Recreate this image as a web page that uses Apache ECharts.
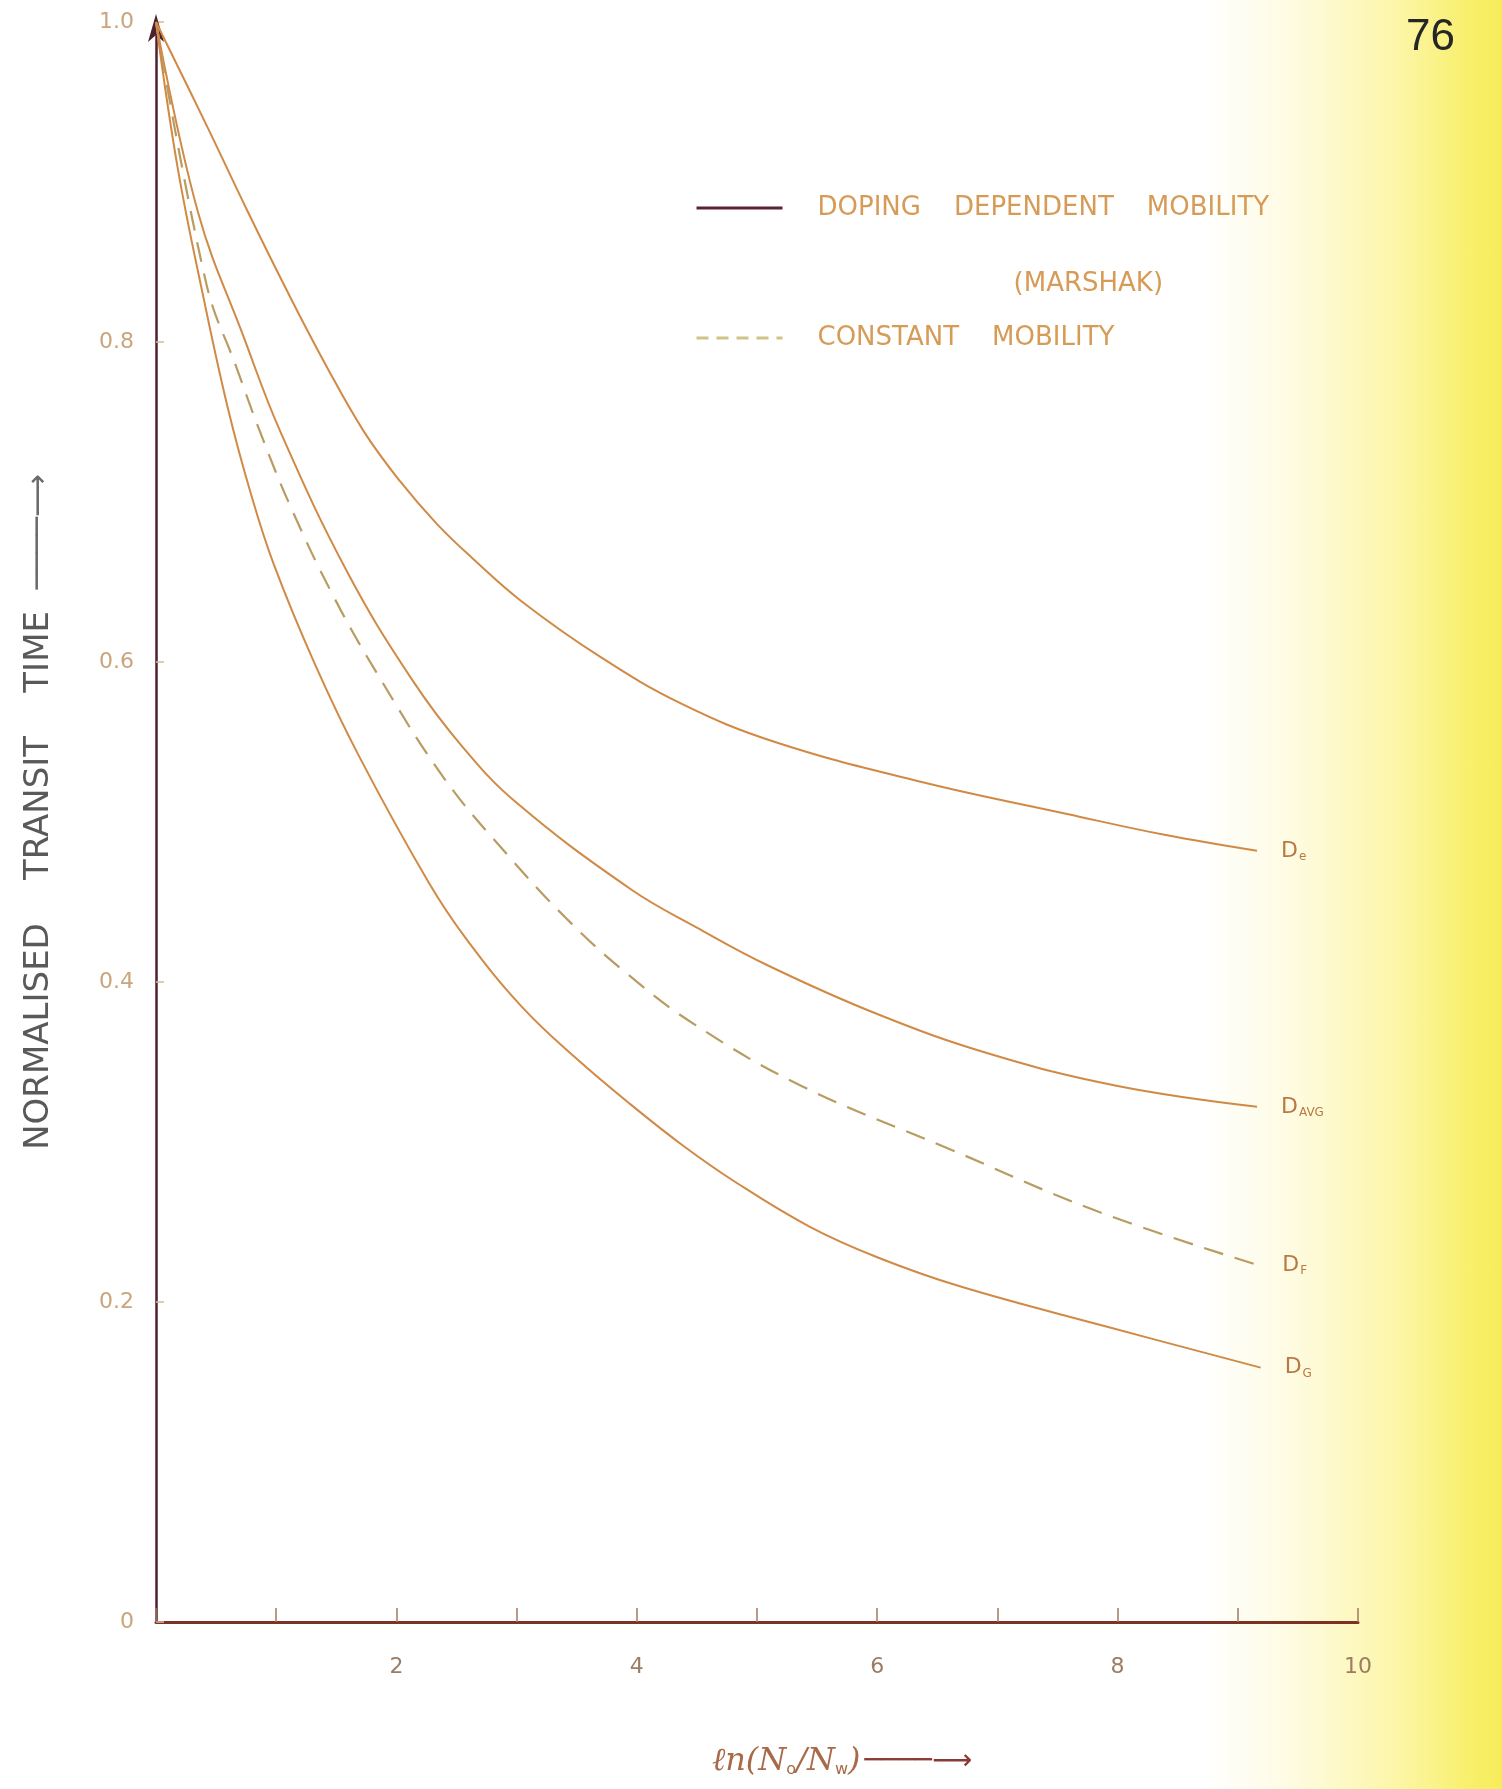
<!DOCTYPE html>
<html>
<head>
<meta charset="utf-8">
<script src="https://cdn.jsdelivr.net/npm/echarts@6/dist/echarts.min.js"></script>
<style>
  html, body { margin: 0; padding: 0; }
  body {
    width: 1502px; height: 1789px;
    background: linear-gradient(to right, #ffffff 0%, #ffffff 80%, #fefbe2 86%, #fcf6a8 93%, #f8ef6a 98%, #f6ec5a 100%);
  }
  #chart { width: 1502px; height: 1789px; }
</style>
</head>
<body>
<div id="chart"></div>
<script>
// ---- data (x = ln(No/Nw), y = normalised transit time) ----
const xTickLabels = ['2', '4', '6', '8', '10'];
const yTickLabels = ['0', '0.2', '0.4', '0.6', '0.8', '1.0'];

const seriesDopingName = 'DOPING DEPENDENT MOBILITY (MARSHAK)';
const seriesConstName = 'CONSTANT MOBILITY';

// D_e (top solid curve)
const deX = [0, 0.43, 0.76, 1.09, 1.41, 1.73, 2.03, 2.34, 2.63, 3.04, 3.70, 4.37, 5.15, 6.37, 7.58, 8.39, 9.16];
const deY = [1.0, 0.934, 0.882, 0.832, 0.786, 0.744, 0.713, 0.686, 0.665, 0.638, 0.603, 0.574, 0.550, 0.525, 0.505, 0.492, 0.482];

// D_AVG (second solid curve)
const davgX = [0, 0.35, 0.73, 1.04, 1.60, 2.13, 2.55, 3.00, 3.95, 4.50, 5.10, 6.00, 6.94, 8.00, 9.16];
const davgY = [1.0, 0.881, 0.803, 0.743, 0.655, 0.589, 0.547, 0.512, 0.458, 0.434, 0.410, 0.380, 0.355, 0.335, 0.322];

// D_F (dashed, constant mobility)
const dfX = [0, 0.42, 0.67, 0.87, 1.12, 1.47, 1.83, 2.40, 2.93, 3.41, 3.89, 4.47, 5.37, 6.59, 7.82, 9.17];
const dfY = [1.0, 0.836, 0.784, 0.743, 0.697, 0.642, 0.594, 0.527, 0.479, 0.440, 0.407, 0.374, 0.335, 0.296, 0.257, 0.223];

// D_G (lowest solid curve)
const dgX = [0, 0.18, 0.40, 0.60, 0.79, 0.98, 1.32, 1.69, 2.27, 2.59, 3.05, 3.50, 3.94, 4.38, 4.82, 5.44, 6.00, 6.68, 7.89, 9.19];
const dgY = [1.0, 0.909, 0.826, 0.758, 0.705, 0.661, 0.599, 0.541, 0.462, 0.426, 0.384, 0.352, 0.324, 0.298, 0.275, 0.247, 0.228, 0.210, 0.185, 0.159];

const curveSubs = { de: 'e', davg: 'AVG', df: 'F', dg: 'G' };

function zip(xs, ys) { return xs.map((x, i) => [x, ys[i]]); }

const solidColor = '#d08a46';
const dashColor = '#b89c62';
const labelRich = {
  d: { fontSize: 22, color: '#b87a44', fontFamily: 'DejaVu Sans' },
  s: { fontSize: 12, color: '#b87a44', fontFamily: 'DejaVu Sans', padding: [12, 0, 0, 1] }
};
function endLabel(sub) {
  return { show: true, distance: 24, formatter: '{d|D}{s|' + sub + '}', rich: labelRich };
}

const chart = echarts.init(document.getElementById('chart'), null, { renderer: 'canvas' });

const legendFont = { fontSize: 26, color: '#d79b58', fontFamily: 'DejaVu Sans' };

const option = {
  animation: false,
  backgroundColor: 'transparent',
  title: {
    text: '76', right: 42, top: 11,
    textStyle: { fontSize: 44, fontWeight: 'normal', color: '#262626', fontFamily: 'Liberation Sans' }
  },
  legend: {
    orient: 'vertical', left: 690, top: 89, itemWidth: 86, itemHeight: 14, itemGap: 0,
    data: [
      { name: seriesDopingName, lineStyle: { color: '#5e2232', width: 3, type: 'solid' },
        itemStyle: { opacity: 0, color: 'rgba(0,0,0,0)', borderWidth: 0 } },
      { name: seriesConstName, lineStyle: { color: '#cfc488', width: 3, type: [12, 8] },
        itemStyle: { opacity: 0, color: 'rgba(0,0,0,0)', borderWidth: 0 } }
    ],
    formatter: function (name) {
      if (name === seriesDopingName) {
        return '\n{a|DOPING    DEPENDENT    MOBILITY}\n{b|(MARSHAK)}';
      }
      return '{c|CONSTANT    MOBILITY}';
    },
    textStyle: {
      lineHeight: 76, padding: [0, 0, 0, 30],
      rich: {
        a: Object.assign({ lineHeight: 76 }, legendFont),
        b: Object.assign({ lineHeight: 76, align: 'center', padding: [0, 0, 0, 90] }, legendFont),
        c: Object.assign({ lineHeight: 32 }, legendFont)
      }
    }
  },
  grid: { left: 156, right: 144, top: 22, bottom: 167, containLabel: false },
  xAxis: {
    type: 'value', min: 0, max: 10, interval: 1,
    name: '{t|ℓn(N}{s|o}{t|/N}{s|w}{t|)}{a|────⟶}',
    nameLocation: 'middle', nameGap: 124,
    nameTextStyle: {
      padding: [0, 0, 0, 170],
      rich: {
        t: { fontSize: 32, color: '#a86a48', fontFamily: 'DejaVu Serif', fontStyle: 'italic' },
        s: { fontSize: 16, color: '#a86a48', fontFamily: 'DejaVu Sans', padding: [16, 0, 0, 0] },
        a: { fontSize: 28, color: '#8a3a34', fontFamily: 'DejaVu Sans', padding: [0, 0, 0, 4] }
      }
    },
    axisLine: { show: true, onZero: false, lineStyle: { color: '#7c3223', width: 3 } },
    axisTick: { show: true, inside: true, length: 14, lineStyle: { color: '#a07a60', width: 1.5 } },
    axisLabel: {
      margin: 34, fontSize: 22, color: '#9c7c62', fontFamily: 'DejaVu Sans',
      formatter: function (v) { return (v > 0 && v % 2 === 0) ? xTickLabels[v / 2 - 1] : ''; }
    },
    splitLine: { show: false }
  },
  yAxis: {
    type: 'value', min: 0, max: 1.0, interval: 0.2,
    name: 'NORMALISED    TRANSIT    TIME  {a|────⟶}',
    nameLocation: 'middle', nameGap: 100, nameRotate: 90,
    nameTextStyle: { fontSize: 34, color: '#595959', fontFamily: 'DejaVu Sans', padding: [0, 0, 0, 20],
      rich: { a: { fontSize: 30, color: '#6a6a6a', fontFamily: 'DejaVu Sans' } } },
    axisLine: { show: true, onZero: false, symbol: ['none', 'arrow'], symbolSize: [12, 28], symbolOffset: [0, 8],
      lineStyle: { color: '#4c2230', width: 2.5 } },
    axisTick: { show: true, inside: true, length: 8, lineStyle: { color: '#d8bc92', width: 1.5 } },
    axisLabel: {
      margin: 22, fontSize: 22, color: '#c9a57c', fontFamily: 'DejaVu Sans',
      formatter: function (v) { return yTickLabels[Math.round(v / 0.2)]; }
    },
    splitLine: { show: false }
  },
  series: [
    { type: 'line', name: seriesDopingName, data: zip(deX, deY), smooth: 0.4, symbol: 'none',
      lineStyle: { color: solidColor, width: 2 }, itemStyle: { color: solidColor }, endLabel: endLabel(curveSubs.de) },
    { type: 'line', name: seriesDopingName, data: zip(davgX, davgY), smooth: 0.4, symbol: 'none',
      lineStyle: { color: solidColor, width: 2 }, itemStyle: { color: solidColor }, endLabel: endLabel(curveSubs.davg) },
    { type: 'line', name: seriesConstName, data: zip(dfX, dfY), smooth: 0.4, symbol: 'none',
      lineStyle: { color: dashColor, width: 2.2, type: [20, 12] }, itemStyle: { color: dashColor }, endLabel: endLabel(curveSubs.df) },
    { type: 'line', name: seriesDopingName, data: zip(dgX, dgY), smooth: 0.4, symbol: 'none',
      lineStyle: { color: solidColor, width: 2 }, itemStyle: { color: solidColor }, endLabel: endLabel(curveSubs.dg) }
  ]
};
chart.setOption(option);
</script>
</body>
</html>
